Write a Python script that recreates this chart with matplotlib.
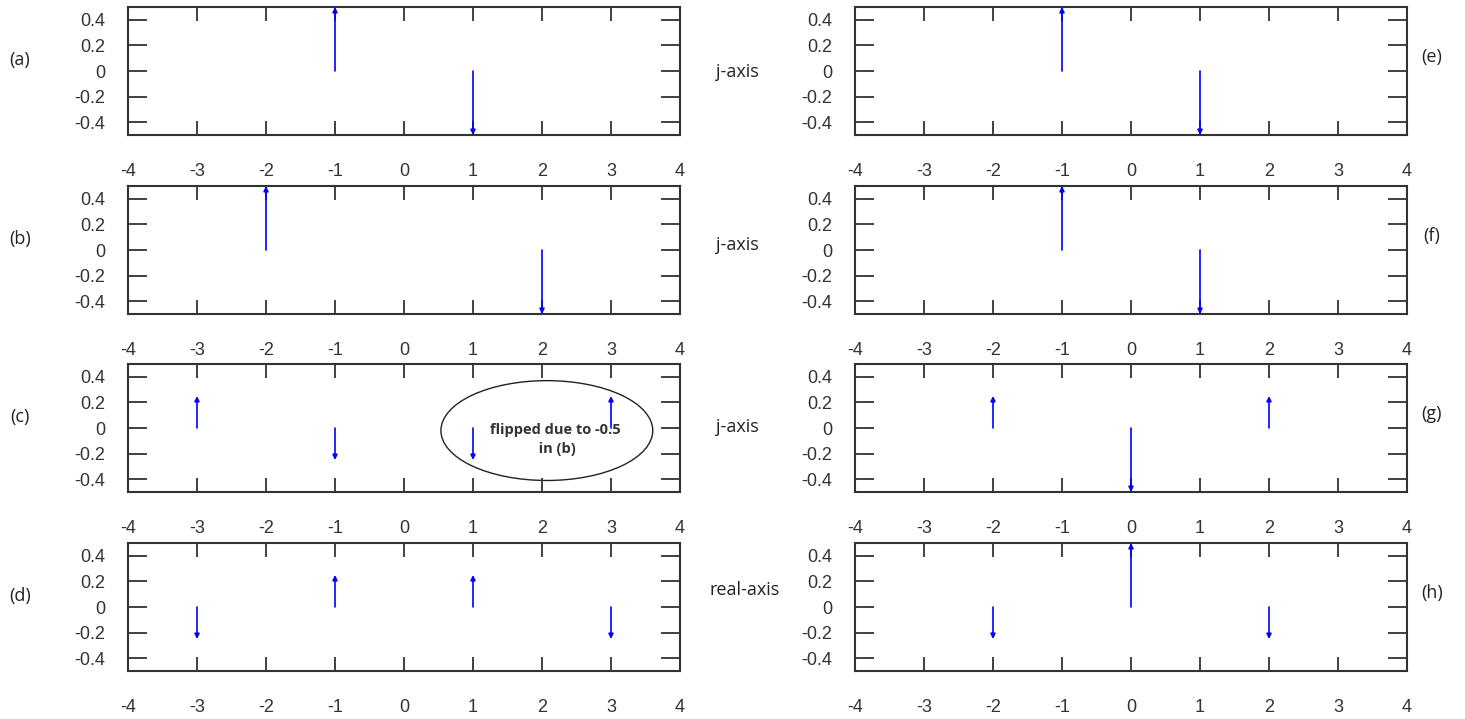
import matplotlib
matplotlib.use("Agg")
import matplotlib.pyplot as plt
import numpy as np
from matplotlib.patches import Ellipse

# spectra: frequency positions and stem heights for each panel
panel_names = ['(a)', '(b)', '(c)', '(d)', '(e)', '(f)', '(g)', '(h)']
freqs = {
    '(a)': [-1, 1], '(b)': [-2, 2], '(c)': [-3, -1, 1, 3], '(d)': [-3, -1, 1, 3],
    '(e)': [-1, 1], '(f)': [-1, 1], '(g)': [-2, 0, 2], '(h)': [-2, 0, 2],
}
heights = {
    '(a)': [0.5, -0.5], '(b)': [0.5, -0.5],
    '(c)': [0.25, -0.25, -0.25, 0.25], '(d)': [-0.25, 0.25, 0.25, -0.25],
    '(e)': [0.5, -0.5], '(f)': [0.5, -0.5],
    '(g)': [0.25, -0.5, 0.25], '(h)': [-0.25, 0.5, -0.25],
}
axis_names = ['j-axis', 'j-axis', 'j-axis', 'real-axis']
xticks = [-4, -3, -2, -1, 0, 1, 2, 3, 4]
yticks = [-0.4, -0.2, 0, 0.2, 0.4]
ytick_labels = ['-0.4', '-0.2', '0', '0.2', '0.4']

W, H = 1465, 719
fig = plt.figure(figsize=(W / 100, H / 100), dpi=100)

col_left = [128, 855]
ax_w = 552
row_top = [7, 186, 364, 543]
ax_h = 128
dark = '#333333'

for i, name in enumerate(panel_names):
    col = i // 4
    row = i % 4
    l = col_left[col] / W
    b = 1 - (row_top[row] + ax_h) / H
    ax = fig.add_axes([l, b, ax_w / W, ax_h / H])
    ax.set_xlim(-4, 4)
    ax.set_ylim(-0.5, 0.5)
    ax.set_xticks(xticks)
    ax.set_xticklabels([str(t) for t in xticks], fontsize=13, color=dark,
                       family='Liberation Sans')
    ax.set_yticks(yticks)
    ax.set_yticklabels(ytick_labels, fontsize=13, color=dark,
                       family='Liberation Sans')
    ax.tick_params(axis='x', direction='in', length=10, width=1.3, color=dark,
                   top=True, pad=20)
    ax.tick_params(axis='y', direction='in', length=14, width=1.3, color=dark,
                   right=True, pad=16.5)
    for sp in ax.spines.values():
        sp.set_color(dark)
        sp.set_linewidth(1.5)

    for f, h in zip(freqs[name], heights[name]):
        ax.annotate('', xy=(f, h), xytext=(f, 0),
                    arrowprops=dict(arrowstyle='-|>', color='blue', lw=1.2,
                                    mutation_scale=7, shrinkA=0, shrinkB=0),
                    annotation_clip=False)

    # panel letter
    if col == 0:
        fig.text(20 / W, 1 - (row_top[row] + 53) / H, name, fontsize=13,
                 color='#222222', ha='center', va='center', family='Open Sans')
    else:
        fig.text(1432 / W, 1 - (row_top[row] + 50) / H, name, fontsize=13,
                 color='#222222', ha='center', va='center', family='Open Sans')

    if name == '(c)':
        ax.add_patch(Ellipse((2.07, -0.02), 3.07, 0.78, fill=False,
                             edgecolor='#222222', lw=1.0))
        ax.text(2.2, -0.09, 'flipped due to -0.5\n in (b)', ha='center',
                va='center', fontsize=10.5, fontweight='bold', color='#333333',
                family='Open Sans', linespacing=1.5)

for row, lab in enumerate(axis_names):
    ypix = [72, 245, 427, 590][row]
    xpix = [737, 737, 737, 745][row]
    fig.text(xpix / W, 1 - ypix / H, lab, fontsize=13, color='#222222',
             ha='center', va='center', family='Open Sans')

fig.savefig('out.png', dpi=100)
